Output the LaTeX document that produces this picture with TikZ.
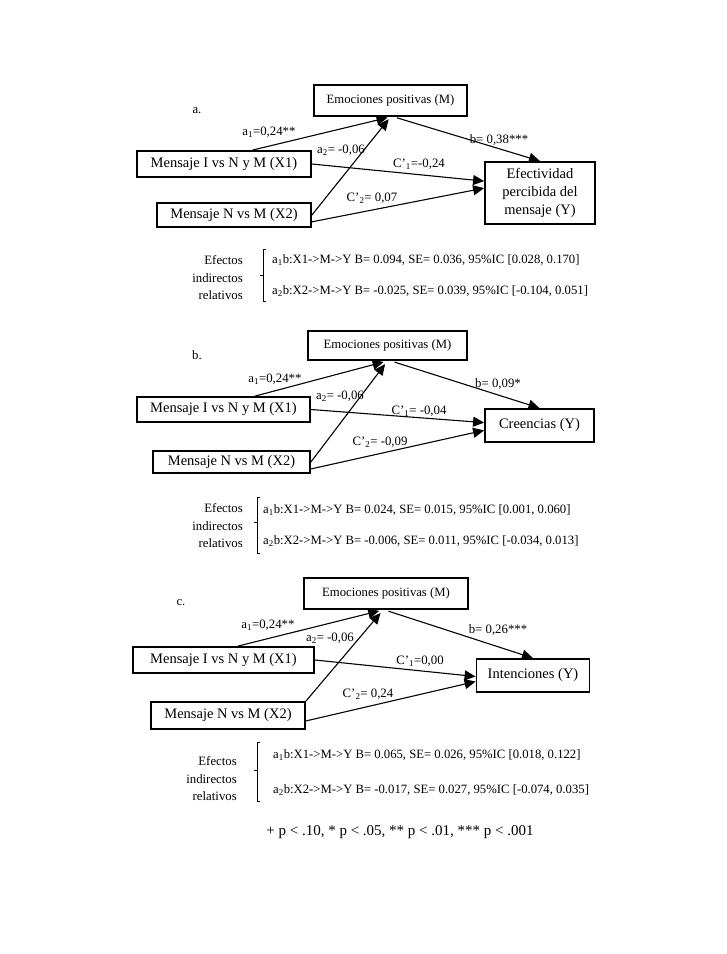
\documentclass[tikz,border=0pt]{standalone}
\usepackage{fontspec}
\setmainfont{Liberation Serif}
\usetikzlibrary{arrows.meta}

\def \fbig{\fontsize{14.5}{18}\selectfont}
\def \fmed{\fontsize{12.7}{15}\selectfont}
\def \fsmall{\fontsize{12.8}{17.5}\selectfont}
\def \frow{\fontsize{12.7}{15}\selectfont}
\def \ffoot{\fontsize{15}{18}\selectfont}

\tikzset{
 box/.style={draw, line width=1.8pt, inner sep=0pt, font=\fbig, align=center},
 mbox/.style={box, font=\fmed},
 arr/.style={line width=1.1pt, -{Triangle[length=11pt,width=10pt]}},
 lbl/.style={font=\fsmall, inner sep=0pt},
 efx/.style={font=\frow, inner sep=0pt, anchor=west},
 brk/.style={line width=0.6pt}
}

\begin{document}
\begin{tikzpicture}[x=1pt, y=-1pt]
\useasboundingbox (0,0) rectangle (727,954);

% a.
\node[lbl] (tagA) at (197,111) {a.};
\node[mbox, minimum width=153, minimum height=31] (Ma) at (390.5,100.5) {Emociones positivas (M)};
\node[box, minimum width=174, minimum height=26] (X1a) at (224,164) {Mensaje I vs N y M (X1)};
\node[box, minimum width=154, minimum height=24] (X2a) at (234,215) {Mensaje N vs M (X2)};
\node[box, minimum width=110, minimum height=62] (Ya) at (540,193) {Efectividad\\percibida del\\mensaje (Y)};
\draw[arr, shorten >=3pt] (X1a.26) -- (Ma.south);
\draw[arr, shorten >=3pt] (X2a.east) -- (Ma.south);
\draw[arr, shorten <=3pt] (Ma.-78) -- (Ya.north);
\draw[arr] (X1a.east) -- (Ya.168);
\draw[arr] (X2a.-5) -- (Ya.175);
\node[lbl] (a1a) at (269,132) {a\textsubscript{1}=0,24**};
\node[lbl] (a2a) at (341,150) {a\textsubscript{2}= -0,06};
\node[lbl] (ba) at (499,140) {b= 0,38***};
\node[lbl] (c1a) at (419,164) {C’\textsubscript{1}=-0,24};
\node[lbl] (c2a) at (372,198) {C’\textsubscript{2}= 0,07};
\node[lbl, align=right, anchor=east] (efa) at (243,278) {Efectos\\indirectos\\relativos};
\draw[brk] (266,249) -- (263,249) -- (263,301) -- (266,301);
\draw[brk] (263,275) -- (260,275);
\node[efx] (r1a) at (272,260) {a\textsubscript{1}b:X1->M->Y B= 0.094, SE= 0.036, 95\%IC [0.028, 0.170]};
\node[efx] (r2a) at (272,291) {a\textsubscript{2}b:X2->M->Y B= -0.025, SE= 0.039, 95\%IC [-0.104, 0.051]};

% b.
\node[lbl] (tagB) at (197,355) {b.};
\node[mbox, minimum width=159, minimum height=29] (Mb) at (387.5,345.5) {Emociones positivas (M)};
\node[box, minimum width=173, minimum height=25] (X1b) at (223.5,409.5) {Mensaje I vs N y M (X1)};
\node[box, minimum width=157, minimum height=22] (X2b) at (231.5,462) {Mensaje N vs M (X2)};
\node[box, minimum width=109, minimum height=33] (Yb) at (539.5,425.5) {Creencias (Y)};
\draw[arr, shorten >=4pt] (X1b.23) -- (Mb.south);
\draw[arr, shorten >=4pt] (X2b.east) -- (Mb.south);
\draw[arr, shorten <=4pt] (Mb.-78) -- (Yb.north);
\draw[arr] (X1b.east) -- (Yb.177);
\draw[arr] (X2b.-5) -- (Yb.185);
\node[lbl] (a1b) at (275,379) {a\textsubscript{1}=0,24**};
\node[lbl] (a2b) at (340,396) {a\textsubscript{2}= -0,06};
\node[lbl] (bb) at (498,384) {b= 0,09*};
\node[lbl] (c1b) at (419,411) {C’\textsubscript{1}= -0,04};
\node[lbl] (c2b) at (380,442) {C’\textsubscript{2}= -0,09};
\node[lbl, align=right, anchor=east] (efb) at (243,526) {Efectos\\indirectos\\relativos};
\draw[brk] (260,497) -- (257,497) -- (257,553) -- (260,553);
\draw[brk] (257,522) -- (254,522);
\node[efx] (r1b) at (263,510) {a\textsubscript{1}b:X1->M->Y B= 0.024, SE= 0.015, 95\%IC [0.001, 0.060]};
\node[efx] (r2b) at (263,541) {a\textsubscript{2}b:X2->M->Y B= -0.006, SE= 0.011, 95\%IC [-0.034, 0.013]};

% c.
\node[lbl] (tagC) at (181,603) {c.};
\node[mbox, minimum width=164, minimum height=31] (Mc) at (386,593.5) {Emociones positivas (M)};
\node[box, minimum width=181, minimum height=26] (X1c) at (223.5,660) {Mensaje I vs N y M (X1)};
\node[box, minimum width=154, minimum height=27] (X2c) at (228,715.5) {Mensaje N vs M (X2)};
\node[box, minimum width=113, minimum height=33] (Yc) at (533,675.5) {Intenciones (Y)};
\draw[arr, shorten >=4pt] (X1c.44) -- (Mc.-100);
\draw[arr, shorten >=4pt] (X2c.north east) -- (Mc.-100);
\draw[arr, shorten <=4pt] (Mc.-95) -- (Yc.north);
\draw[arr] (X1c.east) -- (Yc.181);
\draw[arr] (X2c.-4) -- (Yc.186);
\node[lbl] (a1c) at (268,625) {a\textsubscript{1}=0,24**};
\node[lbl] (a2c) at (330,638) {a\textsubscript{2}= -0,06};
\node[lbl] (bc) at (498,630) {b= 0,26***};
\node[lbl] (c1c) at (420,661) {C’\textsubscript{1}=0,00};
\node[lbl] (c2c) at (368,694) {C’\textsubscript{2}= 0,24};
\node[lbl, align=right, anchor=east] (efc) at (237,779) {Efectos\\indirectos\\relativos};
\draw[brk] (260,742) -- (257,742) -- (257,801) -- (260,801);
\draw[brk] (257,770) -- (254,770);
\node[efx] (r1c) at (273,755) {a\textsubscript{1}b:X1->M->Y B= 0.065, SE= 0.026, 95\%IC [0.018, 0.122]};
\node[efx] (r2c) at (273,790) {a\textsubscript{2}b:X2->M->Y B= -0.017, SE= 0.027, 95\%IC [-0.074, 0.035]};

\node[lbl, font=\ffoot] (foot) at (400,832) {+ p < .10, * p < .05, ** p < .01, *** p < .001};
\end{tikzpicture}
\end{document}
